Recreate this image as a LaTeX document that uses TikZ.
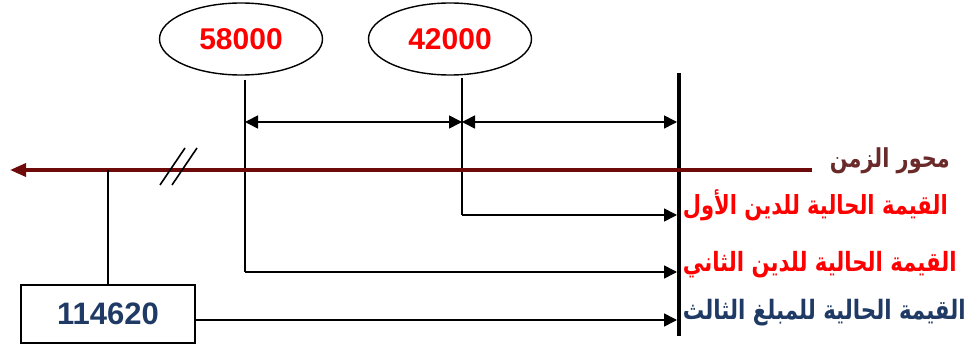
\documentclass[tikz,border=0pt]{standalone}
\usepackage{fontspec}
\setmainfont{Liberation Sans}
\newfontfamily\arabicfont[Script=Arabic]{DejaVu Sans}
\TeXXeTstate=1
\usetikzlibrary{shapes.geometric,arrows.meta}
\definecolor{axisred}{HTML}{6E0A0A}
\definecolor{brownlab}{HTML}{6A2A2A}
\definecolor{navy}{HTML}{1F3A64}
\begin{document}
\begin{tikzpicture}[x=1pt,y=-1pt,
  thinln/.style={line width=1.6pt,black},
  arr/.style={thinln,-{Triangle[length=13pt,width=13pt]}},
  darr/.style={thinln,{Triangle[length=13pt,width=13pt]}-{Triangle[length=13pt,width=13pt]}},
  oval/.style={ellipse,draw,line width=1.4pt,minimum width=163pt,minimum height=72pt,inner sep=0pt,
    text=red,font=\bfseries\fontsize{30}{32}\selectfont},
  arlab/.style={anchor=east,inner sep=0pt,font=\arabicfont\bfseries}]
\useasboundingbox (0,0) rectangle (977,344);
% ellipses
\node[oval] (e1) at (241,39) {58000};
\node[oval] (e2) at (450,39) {42000};
% drop points
\coordinate (t1) at (245,80);
\coordinate (t2) at (462,78);
\coordinate (b1) at (245,272);
\coordinate (b2) at (462,215);
% thick reference line
\coordinate (rt) at (679,73);
\coordinate (rb) at (679,336);
\draw[line width=3.5pt] (rt) -- (rb);
% vertical drops
\draw[thinln] (t1) -- (b1);
\draw[thinln] (t2) -- (b2);
% dimension arrows
\coordinate (d1) at (245,122);
\coordinate (d2) at (462,122);
\coordinate (d3) at (677,122);
\draw[darr] (d1) -- (d2);
\draw[darr] (d2) -- (d3);
% time axis
\coordinate (axr) at (812,170);
\coordinate (axl) at (10,170);
\draw[line width=3.5pt,axisred,-{Triangle[length=16pt,width=13pt]}] (axr) -- (axl);
% break mark
\coordinate (k1a) at (160,185); \coordinate (k1b) at (185,148);
\coordinate (k2a) at (172,185); \coordinate (k2b) at (197,148);
\draw[thinln] (k1a) -- (k1b);
\draw[thinln] (k2a) -- (k2b);
% box
\node[draw,line width=1.6pt,minimum width=174pt,minimum height=58pt,inner sep=0pt,
  text=navy,font=\bfseries\fontsize{31}{33}\selectfont] (box) at (108,314) {114620};
\coordinate (ax0) at (108,170);
\draw[thinln] (ax0) -- (box.north);
% arrows to reference line
\coordinate (a1) at (677,215);
\coordinate (a2) at (677,272);
\coordinate (a3) at (677,320);
\draw[arr] (b2) -- (a1);
\draw[arr] (b1) -- (a2);
\draw[arr] (box.east |- a3) -- (a3);
% labels
\node[arlab,text=brownlab] (l0) at (950,161) {\resizebox{120pt}{!}{\scalebox{1}[1.25]{\beginR محور الزمن\endR}}};
\node[arlab,text=red] (l1) at (948,205) {\resizebox{265pt}{!}{\scalebox{1}[1.25]{\beginR القيمة الحالية للدين الأول\endR}}};
\node[arlab,text=red] (l2) at (957,265) {\resizebox{274pt}{!}{\scalebox{1}[1.25]{\beginR القيمة الحالية للدين الثاني\endR}}};
\node[arlab,text=navy] (l3) at (966,313) {\resizebox{283pt}{!}{\scalebox{1}[1.25]{\beginR القيمة الحالية للمبلغ الثالث\endR}}};
\end{tikzpicture}
\end{document}
